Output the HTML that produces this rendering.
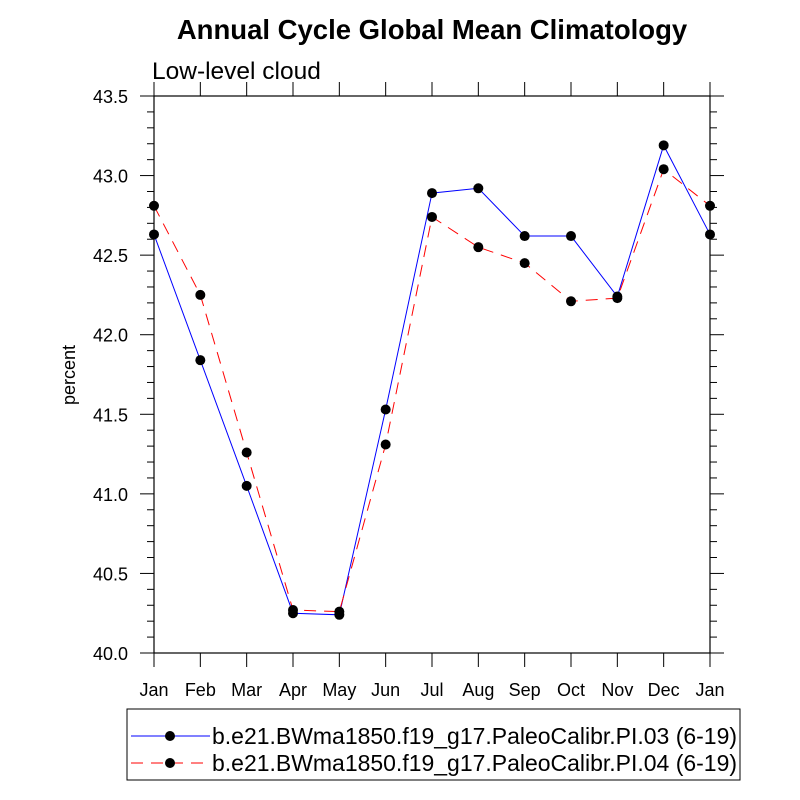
<!DOCTYPE html>
<html><head><meta charset="utf-8"><style>
body{margin:0;background:#fff}
svg{display:block;font-family:"Liberation Sans",sans-serif}
</style></head><body>
<svg id="c" width="800" height="800">
<text x="432" y="39" font-size="27.5" font-weight="bold" text-anchor="middle">Annual Cycle Global Mean Climatology</text>
<text x="152" y="79" font-size="24.5">Low-level cloud</text>
<text transform="translate(75,375) rotate(-90)" font-size="18" text-anchor="middle">percent</text>
<g id="axes"></g><g id="series"></g>
<rect x="127" y="709" width="613" height="71" fill="none" stroke="#000"/>
<g>
<line x1="131" y1="736" x2="210" y2="736" stroke="#00f"/><circle cx="170" cy="736" r="5" fill="#000"/>
<text x="212" y="744" font-size="23" textLength="525" lengthAdjust="spacingAndGlyphs">b.e21.BWma1850.f19_g17.PaleoCalibr.PI.03 (6-19)</text></g>
<g>
<line x1="131" y1="763" x2="210" y2="763" stroke="#f00" stroke-dasharray="12,8"/><circle cx="170" cy="763" r="5" fill="#000"/>
<text x="212" y="771" font-size="23" textLength="525" lengthAdjust="spacingAndGlyphs">b.e21.BWma1850.f19_g17.PaleoCalibr.PI.04 (6-19)</text></g>
</svg>
<script>
const months=["Jan","Feb","Mar","Apr","May","Jun","Jul","Aug","Sep","Oct","Nov","Dec","Jan"];
const series1=[42.63,41.84,41.05,40.25,40.24,41.53,42.89,42.92,42.62,42.62,42.24,43.19,42.63];
const series2=[42.81,42.25,41.26,40.27,40.26,41.31,42.74,42.55,42.45,42.21,42.23,43.04,42.81];
const yTicks=["40.0","40.5","41.0","41.5","42.0","42.5","43.0","43.5"];
const NS="http://www.w3.org/2000/svg";
const L=154,R=710,T=96,B=653,y0=40,y1=43.5;
const xs=i=>L+(R-L)*i/(months.length-1);
const ys=v=>B-(v-y0)/(y1-y0)*(B-T);
function mk(t,a,p){const e=document.createElementNS(NS,t);for(const k in a)e.setAttribute(k,a[k]);p.appendChild(e);return e;}
const ax=document.getElementById('axes');
const fr=mk('rect',{x:L,y:T,width:R-L,height:B-T,fill:'none',stroke:'#000','stroke-width':1.2},ax);


for(let i=0;i<=35;i++){const v=y0+i*0.1,y=ys(v),maj=i%5==0,len=maj?14:7;
mk('line',{x1:L-len,y1:y,x2:L,y2:y,stroke:'#000'},ax);mk('line',{x1:R,y1:y,x2:R+len,y2:y,stroke:'#000'},ax);}
yTicks.forEach(s=>{const t=mk('text',{x:L-26,y:ys(+s)+7,'font-size':18,'text-anchor':'end'},ax);t.textContent=s;

});
months.forEach((m,i)=>{const x=xs(i);mk('line',{x1:x,y1:B,x2:x,y2:B+14,stroke:'#000'},ax);mk('line',{x1:x,y1:T-14,x2:x,y2:T,stroke:'#000'},ax);
const t=mk('text',{x:x,y:B+43,'font-size':18,'text-anchor':'middle'},ax);t.textContent=m;

});
const sg=document.getElementById('series');
[[series1,'#00f',''],[series2,'#f00','12,8']].forEach(([d,c,da],k)=>{
const pl=mk('polyline',{points:d.map((v,i)=>xs(i)+','+ys(v)).join(' '),fill:'none',stroke:c,'stroke-dasharray':da},sg);


d.forEach((v,i)=>{const p=mk('circle',{cx:xs(i),cy:ys(v),r:5,fill:'#000'},sg);

});});
</script>
</body></html>
